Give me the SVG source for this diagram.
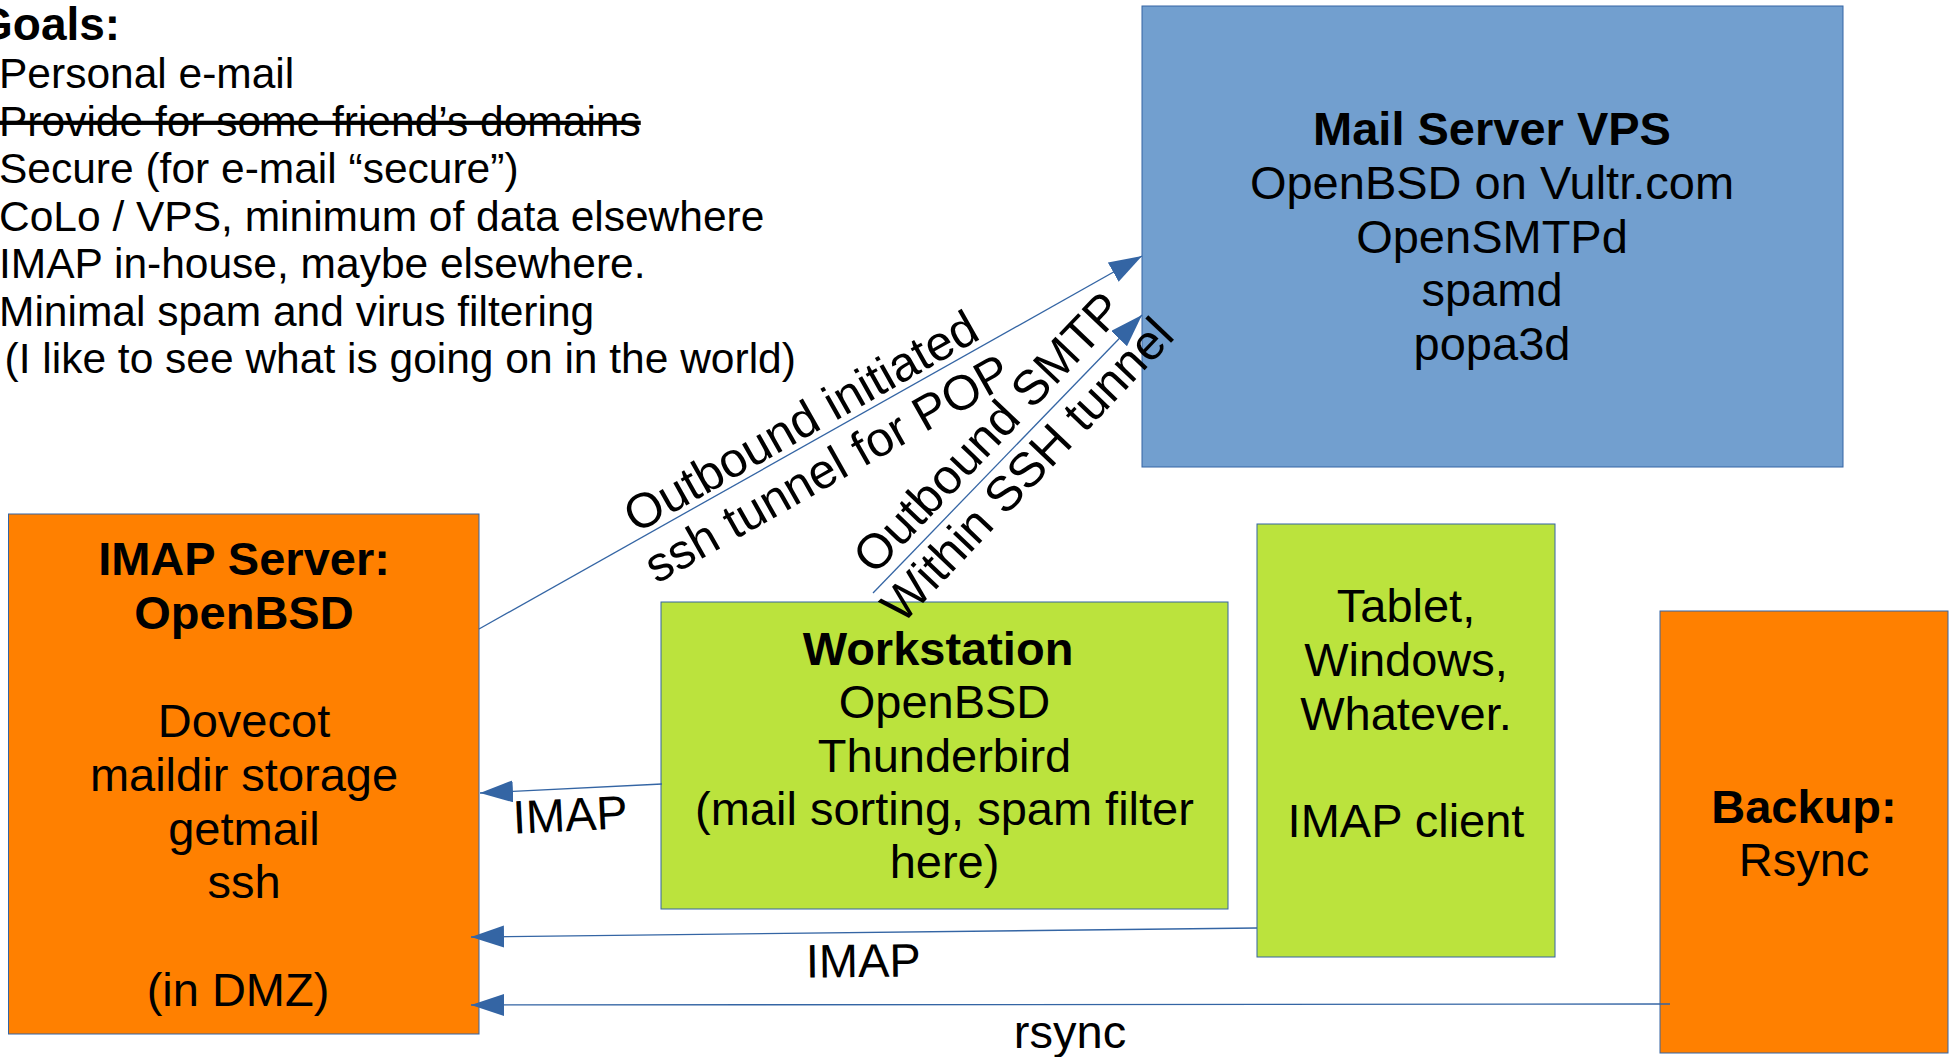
<svg xmlns="http://www.w3.org/2000/svg" width="1955" height="1057" viewBox="0 0 1955 1057">
<style>
text { font-family: "Liberation Sans", Arial, sans-serif; fill: #000; }
.goal { font-size: 42.5px; }
.t { font-size: 47px; text-anchor: middle; }
.b { font-weight: bold; }
.lbl { font-size: 47px; text-anchor: middle; }
.rot { font-size: 49px; text-anchor: middle; }
.box { stroke: #3465a4; stroke-width: 1; }
.blue { fill: #729fcf; }
.orange { fill: #ff8000; }
.green { fill: #bbe33d; }
.conn { stroke: #3465a4; stroke-width: 1.3; fill: none; marker-end: url(#arr); }
</style>
<defs>
<marker id="arr" markerUnits="userSpaceOnUse" markerWidth="34" markerHeight="24" refX="33" refY="11" orient="auto">
<path d="M0,0 L33,11 L0,22 Z" fill="#3465a4"/>
</marker>
</defs>
<rect width="1955" height="1057" fill="#fff"/>

<g id="goals">
<text class="b" x="-23" y="40" style="font-size:46px">Goals:</text>
<text class="goal" x="-1" y="88">Personal e-mail</text>
<text class="goal" x="-1" y="135.5" text-decoration="line-through">Provide for some friend’s domains</text>
<text class="goal" x="-1" y="183">Secure (for e-mail “secure”)</text>
<text class="goal" x="-1" y="230.5">CoLo / VPS, minimum of data elsewhere</text>
<text class="goal" x="-1" y="278">IMAP in-house, maybe elsewhere.</text>
<text class="goal" x="-1" y="325.5">Minimal spam and virus filtering</text>
<text class="goal" x="4.5" y="373">(I like to see what is going on in the world)</text>
</g>

<g id="mail-server">
<rect class="box blue" x="1142" y="6" width="701" height="461"/>
<text class="t b" x="1492" y="145">Mail Server VPS</text>
<text class="t" x="1492" y="199">OpenBSD on Vultr.com</text>
<text class="t" x="1492" y="253">OpenSMTPd</text>
<text class="t" x="1492" y="306">spamd</text>
<text class="t" x="1492" y="360">popa3d</text>
</g>

<g id="imap-server">
<rect class="box orange" x="8.5" y="514" width="470.5" height="520"/>
<text class="t b" x="244" y="575">IMAP Server:</text>
<text class="t b" x="244" y="629">OpenBSD</text>
<text class="t" x="244" y="737">Dovecot</text>
<text class="t" x="244" y="791">maildir storage</text>
<text class="t" x="244" y="844.5">getmail</text>
<text class="t" x="244" y="898">ssh</text>
<text class="t" x="238" y="1006">(in DMZ)</text>
</g>

<g id="workstation">
<rect class="box green" x="661" y="602" width="567" height="307"/>
<text class="t b" x="938" y="665">Workstation</text>
<text class="t" x="944.5" y="718">OpenBSD</text>
<text class="t" x="944.5" y="772">Thunderbird</text>
<text class="t" x="944.5" y="825">(mail sorting, spam filter</text>
<text class="t" x="944.5" y="878">here)</text>
</g>

<g id="tablet">
<rect class="box green" x="1257" y="524" width="298" height="433"/>
<text class="t" x="1406" y="622">Tablet,</text>
<text class="t" x="1406" y="676">Windows,</text>
<text class="t" x="1406" y="730">Whatever.</text>
<text class="t" x="1406" y="837">IMAP client</text>
</g>

<g id="backup">
<rect class="box orange" x="1660" y="611" width="288" height="442"/>
<text class="t b" x="1804" y="823">Backup:</text>
<text class="t" x="1804" y="876">Rsync</text>
</g>

<g id="connectors">
<line class="conn" x1="479" y1="629" x2="1142" y2="256"/>
<line class="conn" x1="873" y1="593" x2="1142" y2="315"/>
<line class="conn" x1="662" y1="784" x2="480" y2="793"/>
<line class="conn" x1="1257" y1="928" x2="471" y2="937"/>
<line class="conn" x1="1670" y1="1004" x2="471" y2="1005"/>
</g>

<g id="labels">
<g transform="translate(809,436) rotate(-29.5)">
<text class="rot" x="0" y="0">Outbound initiated</text>
<text class="rot" x="0" y="54">ssh tunnel for POP</text>
</g>
<g transform="translate(1000,444) rotate(-46.4)">
<text class="rot" x="0" y="0">Outbound SMTP</text>
<text class="rot" x="0" y="54">Within SSH tunnel</text>
</g>
<text class="lbl" transform="translate(571,831) rotate(-2.8)">IMAP</text>
<text class="lbl" transform="translate(863.5,977) rotate(-0.6)">IMAP</text>
<text class="lbl" x="1070" y="1048">rsync</text>
</g>
</svg>
